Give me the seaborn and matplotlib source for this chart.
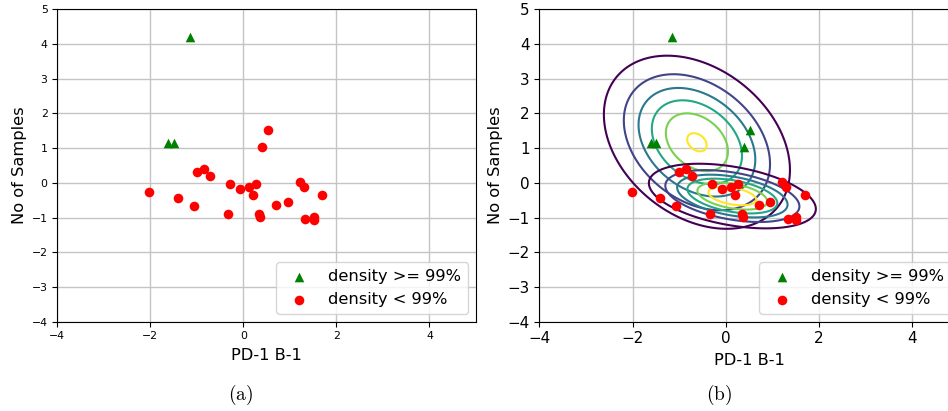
import numpy as np
import pandas as pd
import matplotlib
matplotlib.use("Agg")
import matplotlib.pyplot as plt
import seaborn as sns

plt.rcParams['mathtext.fontset'] = 'cm'

# ---------------- data ----------------
# panel (a): points flagged "density >= 99%"
a_hi_x = [-1.61, -1.50, -1.15]
a_hi_y = [1.15, 1.15, 4.20]
# panel (a): points flagged "density < 99%"
a_lo_x = [-2.02, -1.41, -1.07, -1.00, -0.85, -0.72, -0.34, -0.29, -0.08, 0.11,
          0.27, 0.20, 0.34, 0.36, 0.71, 0.95, 1.21, 1.30, 1.33, 1.51, 1.51, 1.69,
          0.52, 0.40]
a_lo_y = [-0.27, -0.43, -0.66, 0.30, 0.39, 0.20, -0.91, -0.04, -0.18, -0.11,
          -0.03, -0.36, -0.90, -0.98, -0.63, -0.54, 0.03, -0.11, -1.04, -0.98, -1.07, -0.34,
          1.53, 1.04]

# panel (b)
b_hi_x = [-1.61, -1.50, -1.15, 0.52, 0.40]
b_hi_y = [1.15, 1.15, 4.20, 1.53, 1.04]
b_lo_x = a_lo_x[:22]
b_lo_y = a_lo_y[:22]

# gaussian components shown as contours in panel (b)
comp_mean = [(-0.62, 1.17), (0.14, -0.38)]
comp_sd = [(1.048, 1.31), (0.906, 0.471)]
comp_rho = [-0.32, -0.40]
comp_level_step = [0.1634, 0.142]   # contour level spacing as fraction of peak density
n_levels = 6

labels = ["density >= 99%", "density < 99%"]

# ---------------- figure ----------------
W, H = 948, 411
fig = plt.figure(figsize=(W / 100, H / 100), dpi=100)

def rect(l, t, r, b):
    return [l / W, 1 - b / H, (r - l) / W, (b - t) / H]

ax1 = fig.add_axes(rect(57.3, 9.3, 476.0, 321.7))
ax2 = fig.add_axes(rect(539.3, 9.3, 959.0, 321.7))


def draw(ax, hx, hy, lx, ly, tick_fs, xpad, ypad):
    ax.set_axisbelow(True)
    ax.grid(True, color='#c4c4c4', linewidth=1.0)
    sns.scatterplot(x=hx, y=hy, ax=ax, marker='^', color='green', s=48,
                    linewidth=0, label=labels[0], zorder=3)
    sns.scatterplot(x=lx, y=ly, ax=ax, marker='o', color='red', s=48,
                    linewidth=0, label=labels[1], zorder=3)
    ax.set_xlim(-4, 5)
    ax.set_ylim(-4, 5)
    ax.set_xticks([-4, -2, 0, 2, 4])
    ax.set_yticks(range(-4, 6))
    ax.tick_params(labelsize=tick_fs)
    ax.set_xlabel("PD-1 B-1", fontsize=11.7, labelpad=xpad)
    ax.set_ylabel("No of Samples", fontsize=11.7, labelpad=ypad)
    ax.legend(loc='lower right', fontsize=11.7)


draw(ax1, a_hi_x, a_hi_y, a_lo_x, a_lo_y, 7.8, 4.5, 3)

# contours
gx = np.linspace(-4, 5, 500)
gy = np.linspace(-4, 5, 500)
XX, YY = np.meshgrid(gx, gy)
cmap = plt.get_cmap('viridis')
for m, sd, rho, step in zip(comp_mean, comp_sd, comp_rho, comp_level_step):
    sx, sy = sd
    dx = (XX - m[0]) / sx
    dy = (YY - m[1]) / sy
    q = (dx ** 2 - 2 * rho * dx * dy + dy ** 2) / (1 - rho ** 2)
    peak = 1.0 / (2 * np.pi * sx * sy * np.sqrt(1 - rho ** 2))
    Z = peak * np.exp(-0.5 * q)
    lev = peak * step * np.arange(1, n_levels + 1)
    cols = [cmap(i / (n_levels - 1)) for i in range(n_levels)]
    ax2.contour(XX, YY, Z, levels=lev, colors=cols, linewidths=1.5, zorder=2)

draw(ax2, b_hi_x, b_hi_y, b_lo_x, b_lo_y, 10.9, 5, 3)

fig.text(241 / W, 1 - 395 / H, r'$\mathrm{(a)}$', ha='center', va='center', fontsize=14)
fig.text(719 / W, 1 - 395 / H, r'$\mathrm{(b)}$', ha='center', va='center', fontsize=14)

fig.savefig("out.png", dpi=100)
